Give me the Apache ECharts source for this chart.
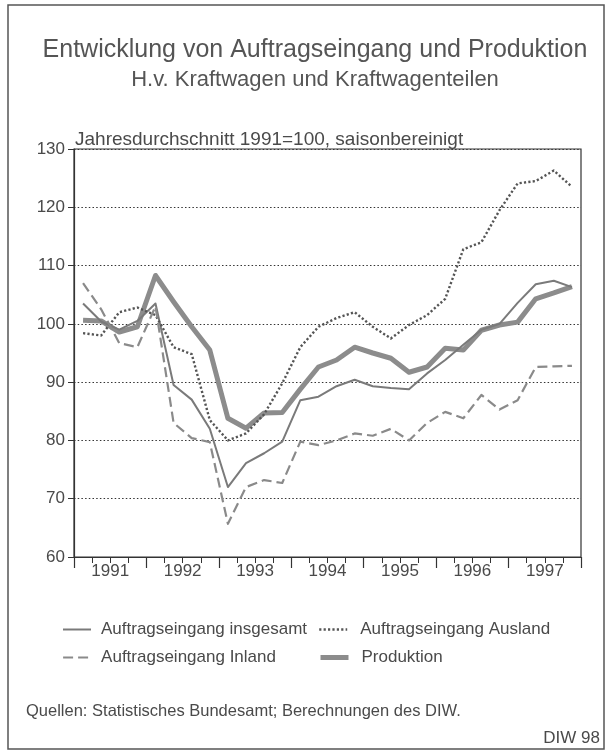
<!DOCTYPE html>
<html>
<head>
<meta charset="utf-8">
<script src="https://cdn.jsdelivr.net/npm/echarts@6/dist/echarts.min.js"></script>
<style>
  html, body { margin: 0; padding: 0; background: #fff; }
  #chart { width: 610px; height: 754px; }
</style>
</head>
<body>
<div id="chart"></div>
<script>
// quarterly values, 1991 Q1 .. 1997 Q4, 1991 = 100
const years = ['1991', '1992', '1993', '1994', '1995', '1996', '1997'];
const quarters = [];
years.forEach(y => { for (let q = 1; q <= 4; q++) quarters.push(y + ' Q' + q); });

const insgesamt = [103.5, 100.4, 99.0, 100.5, 103.5, 89.5, 87.0, 82.0,
                   72.0, 76.1, 77.8, 79.8, 86.9, 87.5, 89.3, 90.4,
                   89.3, 89.0, 88.8, 91.5, 93.8, 96.4, 99.0, 100.0,
                   103.6, 106.8, 107.4, 106.3];
const ausland = [98.4, 98.0, 102.0, 102.8, 101.5, 96.0, 94.8, 83.5,
                 80.0, 81.2, 84.5, 89.8, 96.0, 99.5, 101.0, 102.0,
                 99.5, 97.5, 99.8, 101.5, 104.3, 112.8, 114.0, 119.5,
                 124.1, 124.5, 126.3, 123.5];
const inland = [107.0, 102.5, 96.7, 96.0, 103.0, 83.0, 80.4, 79.7,
                65.7, 72.0, 73.2, 72.7, 79.8, 79.2, 80.0, 81.2,
                80.8, 82.0, 80.0, 83.0, 84.9, 83.8, 87.8, 85.3,
                86.9, 92.6, 92.7, 92.8];
const produktion = [100.6, 100.5, 98.6, 99.5, 108.3, 103.8, 99.5, 95.5,
                    83.8, 82.1, 84.7, 84.8, 88.8, 92.6, 93.8, 96.0,
                    95.0, 94.1, 91.7, 92.6, 95.8, 95.5, 98.9, 99.8,
                    100.3, 104.3, 105.3, 106.4];

const FONT = '"Liberation Sans", Arial, sans-serif';
const TXT = '#4a4a4a';

const STYLES = {
  'Produktion': { color: '#8c8c8c', width: 5, type: 'solid' },
  'Auftragseingang insgesamt': { color: '#7a7a7a', width: 2, type: 'solid' },
  'Auftragseingang Ausland': { color: '#555', width: 2.4, type: [2.2, 2.2] },
  'Auftragseingang Inland': { color: '#8a8a8a', width: 2.2, type: [10, 5] }
};

const chart = echarts.init(document.getElementById('chart'));

function legendAt(name, left, top, pad) {
  const s = STYLES[name];
  return {
    data: [name], left: left, top: top, orient: 'horizontal',
    itemWidth: 28, itemHeight: 14, padding: 0,
    itemStyle: { opacity: 0 },
    lineStyle: { color: s.color, width: s.width, type: s.type },
    textStyle: { fontFamily: FONT, fontSize: 17, color: TXT, padding: [0, 0, 0, pad] }
  };
}

function lineSeries(name, data, z) {
  const s = STYLES[name];
  return {
    name: name, type: 'line', data: data, symbol: 'none', showSymbol: false, z: z,
    itemStyle: { color: s.color },
    lineStyle: { color: s.color, width: s.width, type: s.type, join: 'round' }
  };
}

const option = {
  backgroundColor: '#fff',
  animation: false,
  title: [
    {
      text: 'Entwicklung von Auftragseingang und Produktion',
      left: 310, top: 33, textAlign: 'center',
      textStyle: { fontFamily: FONT, fontSize: 25, fontWeight: 'normal', color: '#555' }
    },
    {
      text: 'H.v. Kraftwagen und Kraftwagenteilen',
      left: 310, top: 64, textAlign: 'center',
      textStyle: { fontFamily: FONT, fontSize: 22, fontWeight: 'normal', color: '#555' }
    },
    {
      text: 'Jahresdurchschnitt 1991=100, saisonbereinigt',
      left: 70, top: 125,
      textStyle: { fontFamily: FONT, fontSize: 19, fontWeight: 'normal', color: TXT }
    }
  ],
  legend: [
    legendAt('Auftragseingang insgesamt', 62, 621, 5),
    legendAt('Auftragseingang Ausland', 318, 621, 8),
    legendAt('Auftragseingang Inland', 62, 649, 5),
    legendAt('Produktion', 318, 649, 8)
  ],
  grid: {
    left: 74, top: 149, right: 29, bottom: 197,
    show: true, borderColor: '#333', borderWidth: 1.2, backgroundColor: 'transparent'
  },
  xAxis: [
    {
      type: 'category', data: quarters, boundaryGap: true, position: 'bottom',
      axisLine: { lineStyle: { color: '#333', width: 1.2 } },
      axisTick: { show: true, interval: 0, length: 6, lineStyle: { color: '#333' } },
      axisLabel: { show: false },
      splitLine: { show: false }
    },
    {
      type: 'category', data: years, boundaryGap: true, position: 'bottom',
      axisLine: { show: false },
      axisTick: { show: true, interval: 0, length: 11, lineStyle: { color: '#333', width: 1.2 } },
      axisLabel: { interval: 0, margin: 6, fontFamily: FONT, fontSize: 17, color: TXT },
      splitLine: { show: false }
    }
  ],
  yAxis: {
    type: 'value', min: 60, max: 130, interval: 10,
    axisLine: { show: true, lineStyle: { color: '#333', width: 1.2 } },
    axisTick: { show: true, length: 6, lineStyle: { color: '#333' } },
    axisLabel: { margin: 9, fontFamily: FONT, fontSize: 17, color: TXT },
    splitLine: { show: true, lineStyle: { color: '#333', width: 1, type: [1.5, 2.2] } }
  },
  series: [
    lineSeries('Produktion', produktion, 2),
    lineSeries('Auftragseingang insgesamt', insgesamt, 3),
    lineSeries('Auftragseingang Ausland', ausland, 3),
    lineSeries('Auftragseingang Inland', inland, 3)
  ],
  graphic: [
    {
      type: 'rect', silent: true,
      shape: { x: 8, y: 5, width: 596, height: 744 },
      style: { fill: 'none', stroke: '#555', lineWidth: 1.5 }
    },
    {
      type: 'text', left: 26, top: 703,
      style: { text: 'Quellen: Statistisches Bundesamt; Berechnungen des DIW.', font: '16.5px ' + FONT, fill: TXT }
    },
    {
      type: 'text', right: 10, top: 730,
      style: { text: 'DIW 98', font: '17px ' + FONT, fill: TXT }
    }
  ]
};

chart.setOption(option);
</script>
</body>
</html>
